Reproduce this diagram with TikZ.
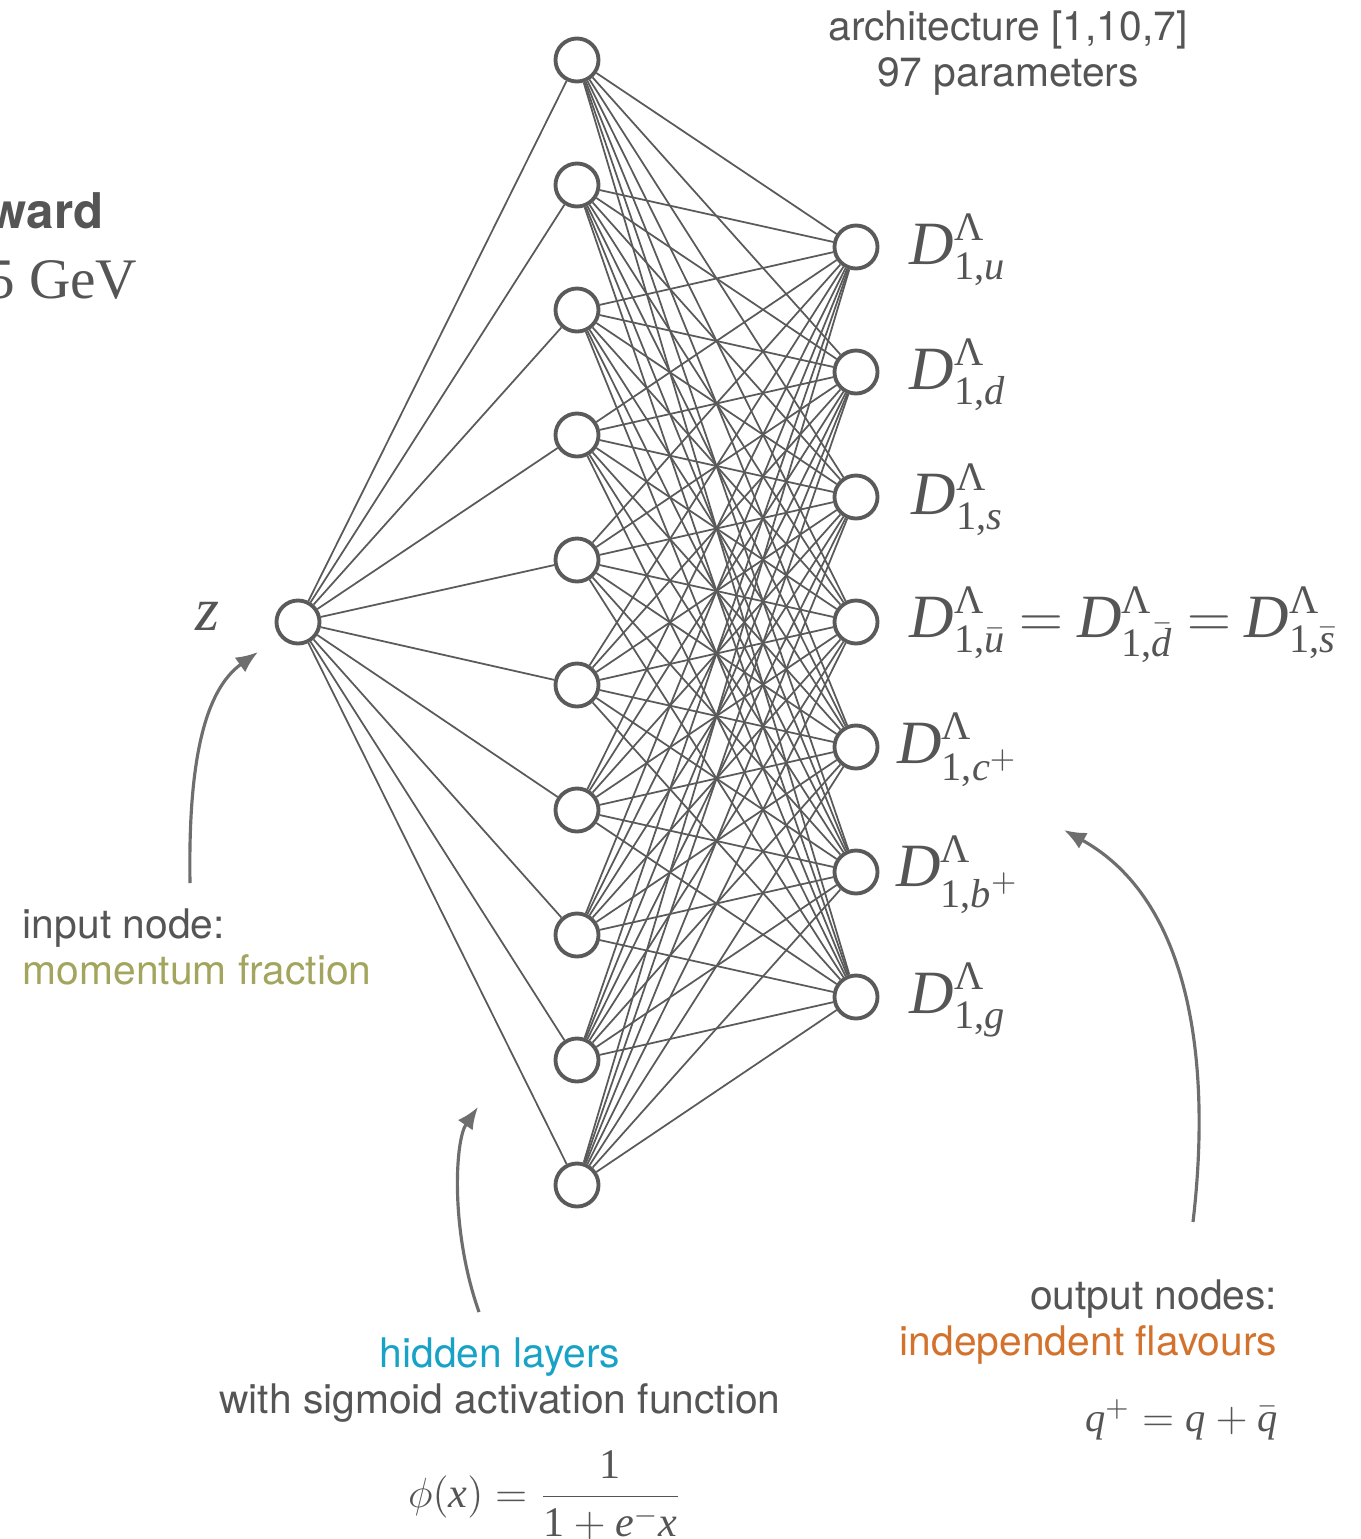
\documentclass[tikz,border=0pt]{standalone}
\usepackage{amsmath}
\usepackage{fontspec}
\setmainfont{TeX Gyre Heros}
\newfontfamily\gevfont{Liberation Serif}
\usepackage{tikz}
\usetikzlibrary{arrows.meta}
\DeclareMathSizes{17.5}{17.5}{11.5}{9}
\DeclareMathSizes{12}{12}{8.5}{7}
\DeclareMathSizes{11.5}{11.5}{8}{6.5}
\newcommand{\mvar}[1]{\text{\gevfont\itshape #1}}
\newcommand{\mrom}[1]{\text{\gevfont #1}}
\newcommand{\flav}[1]{\mvar{D}^{\mrom{Λ}}_{\mrom{1,}#1}}
\definecolor{ink}{HTML}{555555}
\definecolor{edgegray}{HTML}{5A5A5A}
\definecolor{pointer}{HTML}{6E6E6E}
\definecolor{inputcol}{HTML}{A3A55E}
\definecolor{hidcol}{HTML}{17A2C6}
\definecolor{outcol}{HTML}{D3722D}
\tikzset{
  neuron/.style={circle,draw=edgegray,fill=white,line width=1.1pt,minimum size=4.3mm,inner sep=0pt},
  wire/.style={draw=edgegray,line width=0.5pt},
  note/.style={-{Latex[length=2.2mm,width=1.8mm]},draw=pointer,line width=0.9pt},
  txt/.style={font=\fontsize{11.6}{13}\selectfont,text=ink,inner sep=0pt},
  mlbl/.style={font=\fontsize{17.5}{21}\selectfont,text=ink,inner sep=0pt},
  frml/.style={font=\fontsize{12}{14}\selectfont,text=ink,inner sep=0pt},
}

\begin{document}
\begin{tikzpicture}[x=0.01cm,y=-0.01cm]
\useasboundingbox (0,0) rectangle (1361,1539);
\clip (0,0) rectangle (1361,1539);

% ==== neurons: input, hidden (10), output (7) ====
\node[neuron] (in) at (298,622) {};
\foreach \i in {1,...,10}
  \node[neuron] (h\i) at (577,{-65+125*\i}) {};
\foreach \j in {1,...,7}
  \node[neuron] (o\j) at (856,{122+125*\j}) {};

% ==== weights ====
\foreach \i in {1,...,10} {
  \draw[wire] (in) -- (h\i);
  \foreach \j in {1,...,7}
    \draw[wire] (h\i) -- (o\j);
}

% ==== cut-off title (left edge) ====
\node[anchor=base east,inner sep=0pt,text=ink,font=\fontsize{14}{16}\selectfont\bfseries] (dirlbl) at (104,228) {ward};
\node[anchor=base east,inner sep=0pt,text=ink,font=\gevfont\fontsize{16.3}{19}\selectfont] (enlbl) at (138,298) {5 GeV};

% ==== variable and flavour labels ====
\node[mlbl] (zlbl) at (207,616) {$\mvar{z}$};
\node[mlbl] (lu) at (958,250) {$\flav{\mvar{u}}$};
\node[mlbl] (ld) at (958,375) {$\flav{\mvar{d}}$};
\node[mlbl] (ls) at (958,500) {$\flav{\mvar{s}}$};
\node[mlbl,anchor=west] (lsea) at (909,625)
  {$\thickmuskip=4mu \flav{\bar{\mvar{u}}} = \flav{\bar{\mvar{d}}} = \flav{\bar{\mvar{s}}}$};
\node[mlbl] (lc) at (958,750) {$\flav{\mvar{c}^{+}}$};
\node[mlbl] (lb) at (958,875) {$\flav{\mvar{b}^{+}}$};
\node[mlbl] (lg) at (958,1000) {$\flav{\mvar{g}}$};

% ==== annotations ====
\node[txt,align=center] (arch) at (1008,53) {architecture [1,10,7]\\97 parameters};
\node[txt,align=left,anchor=west] (inlbl) at (22,947)
  {input node:\\\textcolor{inputcol}{momentum fraction}};
\node[txt,align=center] (hidlbl) at (500,1380)
  {\textcolor{hidcol}{hidden layers}\\with sigmoid activation function};
\node[frml] (sigm) at (545,1495)
  {$\displaystyle \phi(\mvar{x}) = \frac{\mrom{1}}{\mrom{1}+\mvar{e}^{-}\mvar{x}}$};
\node[txt,align=right,anchor=east] (outlbl) at (1278,1322)
  {output nodes:\\\textcolor{outcol}{independent flavours}};
\node[frml,anchor=east,font=\fontsize{11.5}{14}\selectfont] (qplus) at (1278,1420)
  {$\mvar{q}^{+} = \mvar{q} + \bar{\mvar{q}}$};

% ==== pointers ====
\coordinate (inTail) at (190,883);
\coordinate (inTip) at (258,652);
\draw[note] (inTail) .. controls (188,760) and (205,690) .. (inTip);
\coordinate (hidTail) at (479,1312);
\coordinate (hidTip) at (478,1107);
\draw[note] (hidTail) .. controls (450,1230) and (455,1140) .. (hidTip);
\coordinate (outTail) at (1193,1222);
\coordinate (outTip) at (1064,830);
\draw[note] (outTail) .. controls (1212,1060) and (1190,900) .. (outTip);

\end{tikzpicture}
\end{document}
